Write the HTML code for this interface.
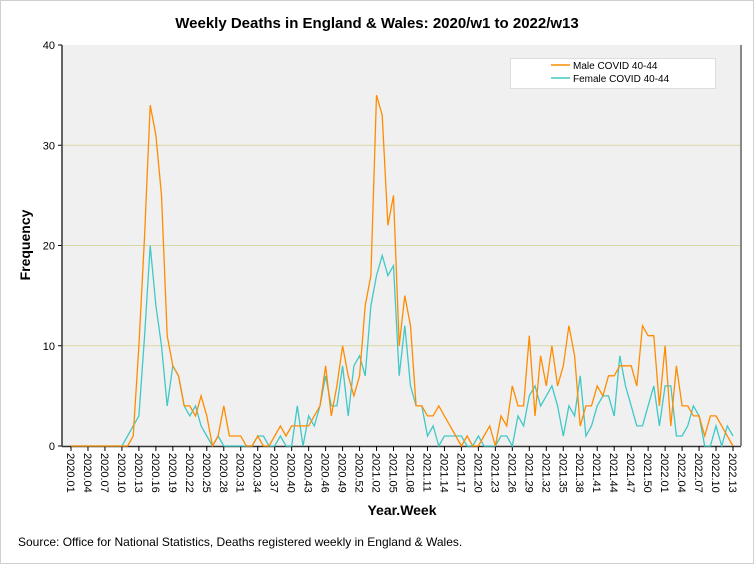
<!DOCTYPE html>
<html><head><meta charset="utf-8">
<style>
html,body{margin:0;padding:0;background:#fff;}
svg{display:block;font-family:"Liberation Sans",sans-serif;}
</style></head>
<body>
<svg id="chart" width="754" height="564" viewBox="0 0 754 564" xmlns="http://www.w3.org/2000/svg">
<rect x="0.5" y="0.5" width="753" height="563" fill="#fff" stroke="#d0d0d0"/>
<text x="377" y="28" text-anchor="middle" font-size="15" font-weight="bold" fill="#000">Weekly Deaths in England &amp; Wales: 2020/w1 to 2022/w13</text>
<rect x="62" y="45" width="679" height="401" fill="#f0f0f0"/>
<g id="grid"></g>
<g id="yaxis"></g>
<g id="xaxis"></g>
<g id="series"></g>
<line x1="741" y1="45" x2="741" y2="446" stroke="#888" stroke-width="2"/>
<text x="30" y="245" text-anchor="middle" font-size="14" font-weight="bold" transform="rotate(-90 30 245)">Frequency</text>
<text x="402" y="515" text-anchor="middle" font-size="14" font-weight="bold">Year.Week</text>
<text x="18" y="546" font-size="12" fill="#000">Source: Office for National Statistics, Deaths registered weekly in England &amp; Wales.</text>
<g>
<rect x="510.5" y="58.5" width="205" height="30" fill="#fff" stroke="#ddd"/>
<line x1="551" y1="65" x2="570" y2="65" stroke="#ff8c00" stroke-width="1.5"/>
<text x="573" y="69" font-size="10">Male COVID 40-44</text>
<line x1="551" y1="78" x2="570" y2="78" stroke="#40c8c8" stroke-width="1.5"/>
<text x="573" y="82" font-size="10">Female COVID 40-44</text>
</g>
</svg>
<script>
const yTicks = [0, 10, 20, 30, 40];
const male2020 = [0,0,0,0,0,0,0,0,0,0,0,1,10,21,34,31,25,11,8,7,4,4,3,5,3,0,1,4,1,1,1,0,0,1,0,0,1,2,1,2,2,2,2,3,4,8,3,6,10,7,5,7,14];
const male2021 = [17,35,33,22,25,10,15,12,4,4,3,3,4,3,2,1,0,1,0,0,1,2,0,3,2,6,4,4,11,3,9,6,10,6,8,12,9,2,4,4,6,5,7,7,8,8,8,6,12,11,11,4];
const male2022 = [10,2,8,4,4,3,3,1,3,3,2,1,0];
const female2020 = [0,0,0,0,0,0,0,0,0,0,1,2,3,11,20,14,10,4,8,7,4,3,4,2,1,0,1,0,0,0,0,0,0,1,1,0,0,1,0,0,4,0,3,2,4,7,4,4,8,3,8,9,7];
const female2021 = [14,17,19,17,18,7,12,6,4,4,1,2,0,1,1,1,1,0,0,1,0,0,0,1,1,0,3,2,5,6,4,5,6,4,1,4,3,7,1,2,4,5,5,3,9,6,4,2,2,4,6,2];
const female2022 = [6,6,1,1,2,4,3,0,0,2,0,2,1];
const weeksPerYear = [53, 52, 13];
const years = [2020, 2021, 2022];

const maleSeries = male2020.concat(male2021, male2022);
const femaleSeries = female2020.concat(female2021, female2022);
const categories = [];
years.forEach((yr, k) => { for (let w = 1; w <= weeksPerYear[k]; w++) categories.push(yr + '.' + (w < 10 ? '0' : '') + w); });

const NS = 'http://www.w3.org/2000/svg';
const X0 = 71, X1 = 733, Y0 = 446, Y1 = 45, YMAX = 40;
const xScale = i => X0 + i * (X1 - X0) / (categories.length - 1);
const yScale = v => Y0 - v * (Y0 - Y1) / YMAX;
function mk(tag, attrs, parent) { const e = document.createElementNS(NS, tag); for (const k in attrs) e.setAttribute(k, attrs[k]); parent.appendChild(e); return e; }

const grid = document.getElementById('grid');
const yaxis = document.getElementById('yaxis');
yTicks.forEach(t => {
  const y = yScale(t);
  if (t > 0 && t < YMAX) {
    const g = mk('line', {x1: 62, x2: 741, y1: y, y2: y, stroke: '#d9d6a6', 'stroke-width': 1}, grid);
    
    
  }
  const tk = mk('line', {x1: 58, x2: 62, y1: y, y2: y, stroke: '#000'}, yaxis);
  
  
  const lb = mk('text', {x: 55, y: y + 4, 'text-anchor': 'end', 'font-size': 11}, yaxis);
  lb.textContent = t;
  
  
});
const ya = mk('line', {x1: 62, x2: 62, y1: 45, y2: 446, stroke: '#333', 'stroke-width': 1.5}, yaxis);



const xaxis = document.getElementById('xaxis');
const xa = mk('line', {x1: 62, x2: 741, y1: 446.5, y2: 446.5, stroke: '#333', 'stroke-width': 1.5}, xaxis);


categories.forEach((c, i) => {
  if (i % 3 !== 0) return;
  const x = xScale(i);
  const tk = mk('line', {x1: x, x2: x, y1: 446, y2: 451, stroke: '#000'}, xaxis);
  
  
  const lb = mk('text', {x: x - 4, y: 453, 'font-size': 11, transform: 'rotate(90 ' + (x - 4) + ' 453)'}, xaxis);
  lb.textContent = c;
  
  
});

const series = document.getElementById('series');
function line(vals, color, name) {
  const pts = vals.map((v, i) => xScale(i).toFixed(1) + ',' + yScale(v).toFixed(1)).join(' ');
  const p = mk('polyline', {points: pts, fill: 'none', stroke: color, 'stroke-width': 1.3, 'stroke-linejoin': 'miter'}, series);
  
  
}
line(femaleSeries, '#40c8c8', 'female-covid-line');
line(maleSeries, '#ff8c00', 'male-covid-line');
</script>
</body></html>
